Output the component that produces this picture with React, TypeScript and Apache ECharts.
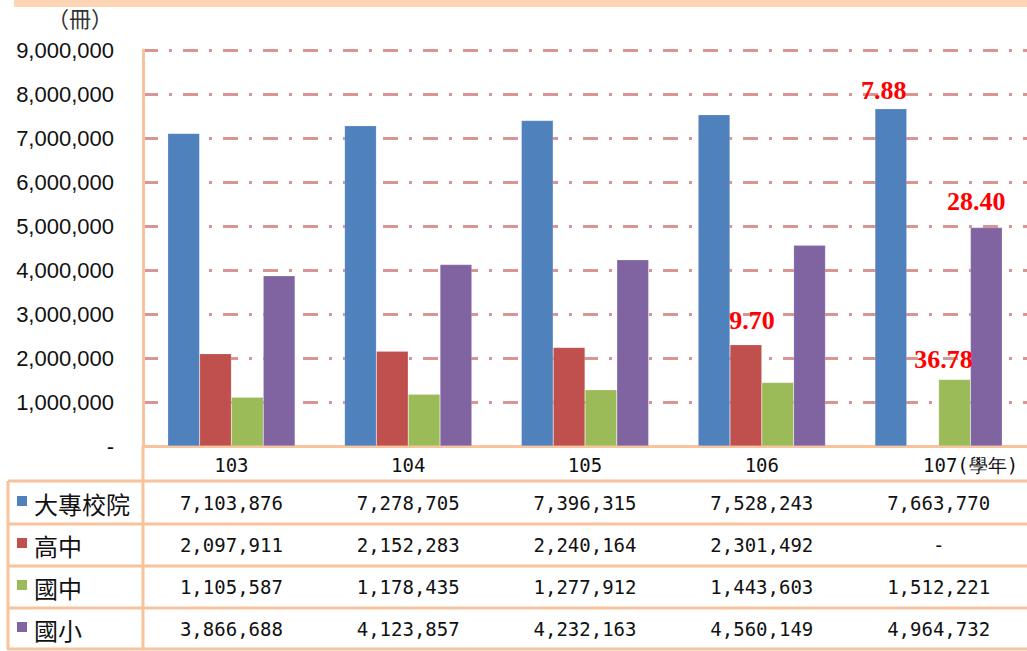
import React, { useEffect, useRef } from "react";
import * as echarts from "echarts";

// ---- data ----
const categories = ["103", "104", "105", "106", "107"];
const lastCategorySuffix = "(學年)";
const seriesNames = ["大專校院", "高中", "國中", "國小"];
const colleges: (number | null)[] = [7103876, 7278705, 7396315, 7528243, 7663770];
const seniorHigh: (number | null)[] = [2097911, 2152283, 2240164, 2301492, null];
const juniorHigh: (number | null)[] = [1105587, 1178435, 1277912, 1443603, 1512221];
const elementary: (number | null)[] = [3866688, 4123857, 4232163, 4560149, 4964732];
// growth-rate notes shown above bars
const collegesNotes = ["", "", "", "", "7.88"];
const seniorHighNotes = ["", "", "", "9.70", ""];
const juniorHighNotes = ["", "", "", "", "36.78"];
const elementaryNotes = ["", "", "", "", "28.40"];
const yMin = 0;
const yMax = 9000000;
const yStep = 1000000;
const unitLabel = "（冊）";

// ---- styles ----
const COLORS = ["#4F81BD", "#C0504D", "#9BBB59", "#8064A2"];
const ORANGE = "#F8C39B";
const GRID_LEFT = 143;
const GRID_TOP = 50;
const AXIS_Y = 446;
const ROW_LINES = [481, 524, 566, 608, 649];
const ROW_CENTERS = [503, 545, 587, 629];
const CAT_CENTER = 465;
const NUM_FONT = "Liberation Sans";
const TABLE_FONT = "DejaVu Sans Mono";
const CJK_FONT = "Noto Sans CJK TC";
const noteOffsets: Record<string, number[]> = {
  "0-4": [-7, 0],
  "1-3": [6, -6],
  "2-4": [-11, -2],
  "3-4": [-10, -8],
};

const fmt = (v: number | null) => (v == null ? "-" : v.toLocaleString("en-US"));

export default function App() {
  const ref = useRef<HTMLDivElement>(null);
  useEffect(() => {
    document.body.style.margin = "0";
    if (!ref.current) return;
    const chart = echarts.init(ref.current, undefined, { renderer: "svg" });
    const allValues = [colleges, seniorHigh, juniorHigh, elementary];
    const allNotes = [collegesNotes, seniorHighNotes, juniorHighNotes, elementaryNotes];

    const series = allValues.map((vals, si) => ({
      name: seriesNames[si],
      type: "bar",
      xAxisIndex: 0,
      yAxisIndex: 0,
      barGap: "0%",
      barCategoryGap: "28%",
      itemStyle: { color: COLORS[si], borderColor: "rgba(255,255,255,0.35)", borderWidth: 0.5 },
      data: vals.map((v, ci) => {
        const note = allNotes[si][ci];
        if (!note) return v;
        return {
          value: v,
          label: {
            show: true,
            position: "top",
            formatter: note,
            offset: noteOffsets[`${si}-${ci}`] || [0, 0],
            color: "#FF0000",
            fontFamily: "Liberation Serif",
            fontWeight: "bold",
            fontSize: 26,
          },
        };
      }),
    }));

    const tableLabel = (margin: number) => ({
      margin,
      verticalAlign: "middle",
      color: "#111",
      fontFamily: TABLE_FONT,
      fontSize: 19,
      interval: 0,
    });

    const catData: any[] = categories.map((c, i) =>
      i === categories.length - 1
        ? {
            value: c + lastCategorySuffix,
            textStyle: {
              padding: [0, 0, 0, 64],
              verticalAlign: "middle",
              fontFamily: TABLE_FONT,
              fontSize: 19,
              color: "#111",
            },
          }
        : c
    );

    const xAxes: any[] = [
      {
        type: "category",
        position: "bottom",
        data: catData,
        axisLine: { show: true, lineStyle: { color: ORANGE, width: 3 } },
        axisTick: { show: false },
        splitLine: { show: false },
        axisLabel: tableLabel(CAT_CENTER - AXIS_Y),
      },
      ...allValues.map((vals, si) => ({
        type: "category",
        position: "bottom",
        data: vals.map(fmt),
        axisLine: { show: false },
        axisTick: { show: false },
        splitLine: { show: false },
        axisLabel: tableLabel(ROW_CENTERS[si] - AXIS_Y),
      })),
    ];

    const graphics: any[] = [
      { type: "rect", shape: { x: 14, y: 0, width: 1013, height: 7 }, style: { fill: "#FCD5B4" } },
      ...ROW_LINES.map((y) => ({
        type: "line",
        shape: { x1: 8, y1: y, x2: 1027, y2: y },
        style: { stroke: ORANGE, lineWidth: 3 },
      })),
      { type: "line", shape: { x1: 8, y1: ROW_LINES[0], x2: 8, y2: 650 }, style: { stroke: ORANGE, lineWidth: 3 } },
      { type: "line", shape: { x1: GRID_LEFT, y1: AXIS_Y, x2: GRID_LEFT, y2: 650 }, style: { stroke: ORANGE, lineWidth: 3 } },
      ...seriesNames.flatMap((name, si) => [
        {
          type: "rect",
          shape: { x: 17, y: ROW_CENTERS[si] - 7, width: 10, height: 10 },
          style: { fill: COLORS[si] },
        },
        {
          type: "text",
          style: {
            text: name,
            x: 34,
            y: ROW_CENTERS[si],
            verticalAlign: "middle",
            fill: "#111",
            font: `24px "${CJK_FONT}"`,
          },
        },
      ]),
    ];

    chart.setOption({
      animation: false,
      backgroundColor: "#fff",
      grid: { left: GRID_LEFT, top: GRID_TOP, width: 890, height: AXIS_Y - GRID_TOP, containLabel: false },
      xAxis: xAxes,
      yAxis: {
        type: "value",
        min: yMin,
        max: yMax,
        interval: yStep,
        name: unitLabel,
        nameLocation: "end",
        nameGap: 22,
        nameTextStyle: {
          align: "right",
          padding: [0, 30, 0, 0],
          color: "#333",
          fontFamily: CJK_FONT,
          fontSize: 22,
        },
        axisLine: { show: true, lineStyle: { color: ORANGE, width: 3 } },
        axisTick: { show: false },
        axisLabel: {
          margin: 29,
          color: "#111",
          fontFamily: NUM_FONT,
          fontSize: 22,
          formatter: (v: number) => (v === 0 ? "-" : v.toLocaleString("en-US")),
        },
        splitLine: {
          show: true,
          lineStyle: { color: "#D99594", width: 3, type: [15, 11, 3, 11] },
        },
      },
      series,
      graphic: graphics,
    });
    return () => chart.dispose();
  }, []);
  return <div ref={ref} style={{ width: 1027, height: 651 }} />;
}
